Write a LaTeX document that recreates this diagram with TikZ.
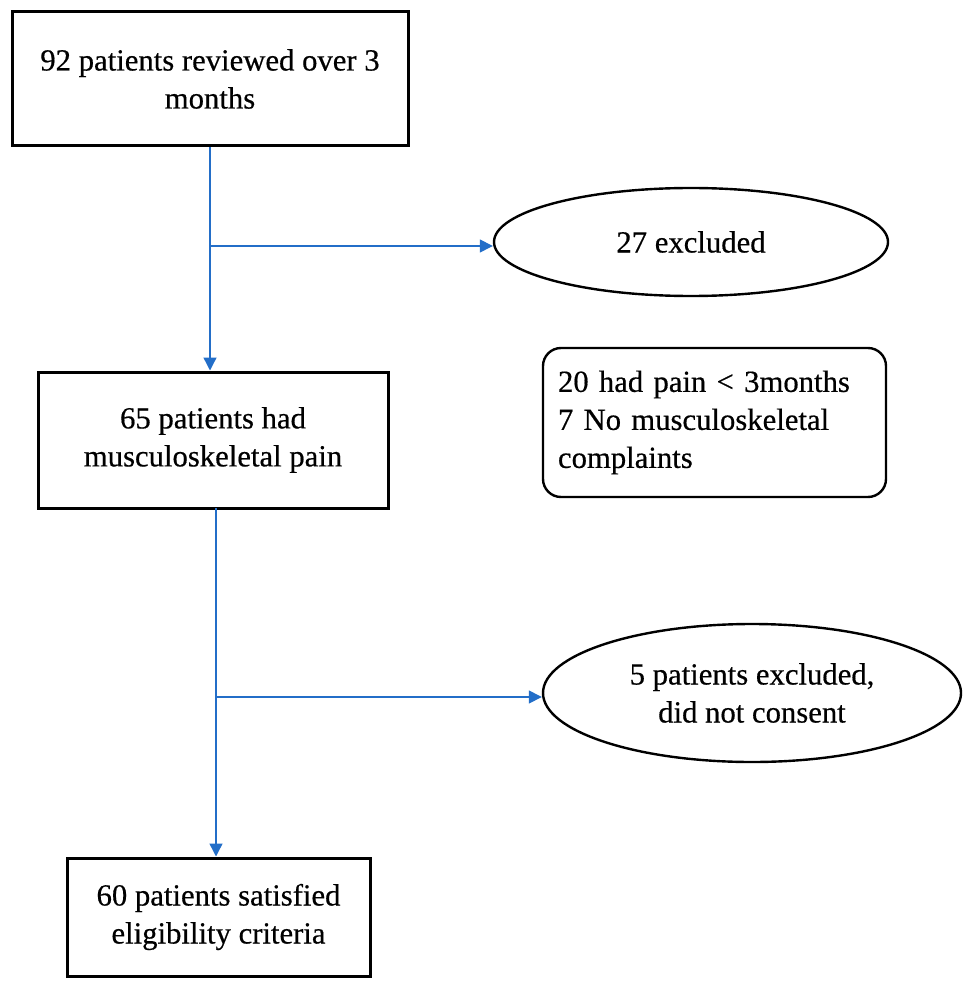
\documentclass[tikz,border=0pt]{standalone}
\usepackage{fontspec}
\setmainfont[FakeBold=0.5]{Liberation Serif}
\usetikzlibrary{arrows.meta,shapes.geometric}
\definecolor{flowblue}{RGB}{35,110,200}
\begin{document}
\begin{tikzpicture}[
            x=1pt, y=-1pt,
            every node/.style={
              font=\fontsize{30.7}{38}\selectfont
            },
            box/.style={
              draw, line width=3pt,
              align=center, inner sep=0pt
            },
            excl/.style={
              draw, ellipse, line width=2.4pt,
              align=center, inner sep=0pt
            },
            flow/.style={
              draw=flowblue, line width=1.4pt,
              -{Triangle[length=13pt,width=13pt]}
            }
        ]
    \useasboundingbox (0,0) rectangle (963,981);

    \node[box, minimum width=396pt, minimum height=134pt] (reviewed) at (210,79)
        {92 patients reviewed over 3\\months};
    \node[box, minimum width=350pt, minimum height=136pt] (pain) at (213,440)
        {65 patients had\\musculoskeletal pain};
    \node[box, minimum width=303pt, minimum height=118pt] (eligible) at (218.5,917)
        {60 patients satisfied\\eligibility criteria};

    \node[excl, minimum width=394pt, minimum height=108pt] (excluded) at (691,242)
        {27 excluded};
    \node[draw, line width=2.4pt, rounded corners=18pt, align=left,
          inner xsep=15pt, inner ysep=0pt, text width=313pt,
          minimum height=149pt] (reasons) at (714.5,422.5)
        {20 had pain < 3months\\7 No musculoskeletal\\complaints};
    \node[excl, minimum width=418pt, minimum height=138pt] (noconsent) at (752,693)
        {5 patients excluded,\\did not consent};

    % main flow
    \draw[flow] (reviewed.south) -- (reviewed.south |- pain.north);
    \coordinate (painout) at (216,508);
    \draw[flow] (painout) -- (painout |- eligible.north);

    % exclusions
    \coordinate (split1) at (210,246);
    \coordinate (split2) at (216,697);
    \draw[flow] (split1) -- (split1 -| excluded.west);
    \draw[flow] (split2) -- (split2 -| noconsent.west);

    \end{tikzpicture}
\end{document}
